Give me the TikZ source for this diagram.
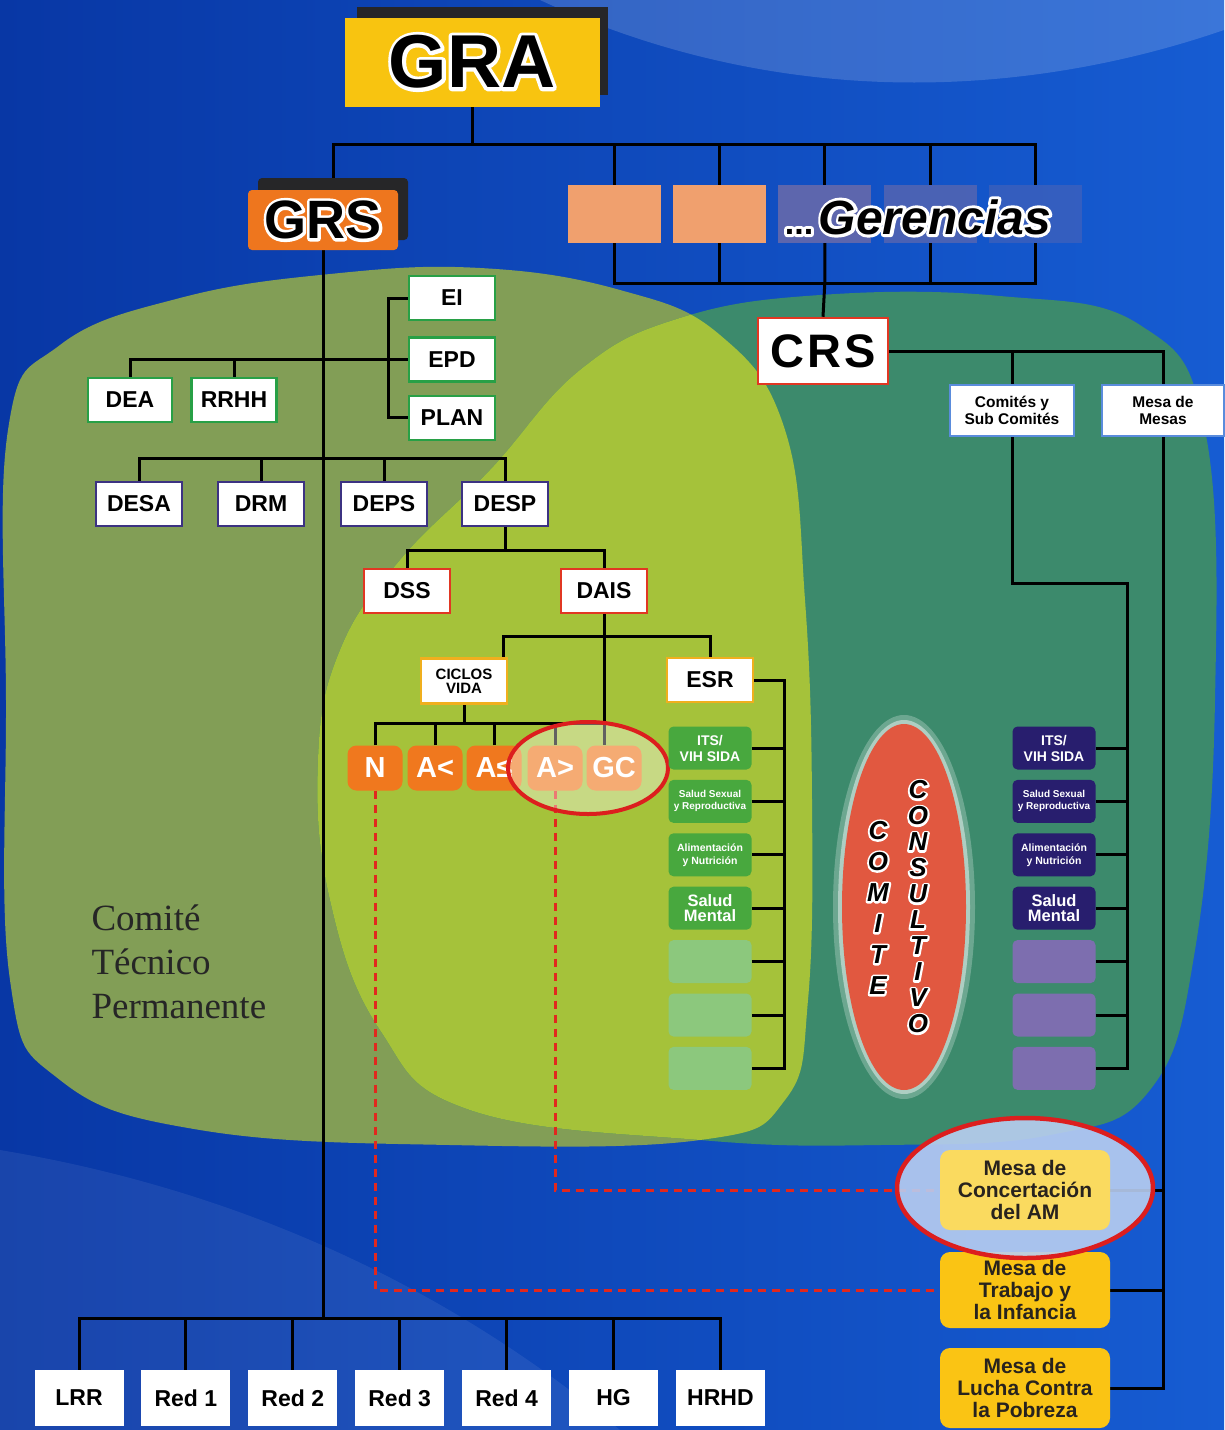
\documentclass[tikz,border=0pt]{standalone}
\usepackage{fontspec}
\setmainfont{Liberation Sans}
\newfontfamily\serifCTP{Liberation Serif}
\newfontfamily\wideCRS[LetterSpace=6]{Liberation Sans}
\usetikzlibrary{positioning}

\definecolor{bgblue}{RGB}{22,92,210}
\definecolor{bgdark}{RGB}{8,55,165}
\definecolor{olivebg}{RGB}{130,158,86}
\definecolor{tealbg}{RGB}{60,138,108}
\definecolor{limebg}{RGB}{165,194,58}
\definecolor{graGold}{RGB}{248,196,16}
\definecolor{grsOrange}{RGB}{238,118,30}
\definecolor{gerSalmon}{RGB}{240,160,110}
\definecolor{gerGrey}{RGB}{112,108,168}
\definecolor{shadowgrey}{RGB}{38,38,40}
\definecolor{grnBorder}{RGB}{40,160,70}
\definecolor{purBorder}{RGB}{60,50,130}
\definecolor{redBorder}{RGB}{225,55,35}
\definecolor{yelBorder}{RGB}{240,175,30}
\definecolor{comBorder}{RGB}{90,140,220}
\definecolor{esrGreen}{RGB}{72,168,62}
\definecolor{esrLight}{RGB}{140,200,125}
\definecolor{crsNavy}{RGB}{40,30,110}
\definecolor{crsLav}{RGB}{125,110,175}
\definecolor{lifeOrange}{RGB}{240,120,30}
\definecolor{mesaGold}{RGB}{250,196,20}
\definecolor{mesaPale}{RGB}{250,218,95}
\definecolor{mesaText}{RGB}{40,35,30}
\definecolor{ovalRed}{RGB}{225,88,64}
\definecolor{ringRed}{RGB}{220,30,30}
\definecolor{dashRed}{RGB}{225,40,30}

\newcommand*{\fsz}[2]{\fontsize{#1}{#2}\selectfont}
% white halo: stroked copy under the filled one
\newcommand*{\haloed}[2][5]{\leavevmode\rlap{\special{pdf:literal direct #1 w 1 j 1 1 1 RG 1 Tr}#2\special{pdf:literal direct 0 Tr}}#2}

\pgfdeclarelayer{back}
\pgfdeclarelayer{lines}
\pgfsetlayers{back,lines,main}

\tikzset{%
    link/.style={line width=3pt, black},
    dashlink/.style={line width=3pt, dashRed, dash pattern=on 8pt off 6pt},
    unitbox/.style={draw, fill=white, line width=2.4pt, inner sep=0pt, minimum width=86pt, minimum height=44pt, font=\fsz{23}{26}\bfseries},
    grnunit/.style={unitbox, draw=grnBorder},
    purunit/.style={unitbox, draw=purBorder},
    redunit/.style={unitbox, draw=redBorder},
    yelunit/.style={unitbox, draw=yelBorder},
    netbox/.style={fill=white, inner sep=0pt, minimum width=89pt, minimum height=56pt, font=\fsz{23}{26}\bfseries},
    gerbox/.style={inner sep=0pt, minimum width=93pt, minimum height=58pt},
    shadowbox/.style={fill=shadowgrey, inner sep=0pt},
    progbox/.style={rounded corners=5pt, inner sep=0pt, minimum width=83pt, minimum height=43pt, text=white, align=center},
    esrprog/.style={progbox, fill=esrGreen},
    esrempty/.style={progbox, fill=esrLight},
    crsprog/.style={progbox, fill=crsNavy},
    crsempty/.style={progbox, fill=crsLav},
    lifebox/.style={fill=lifeOrange, rounded corners=9pt, inner sep=0pt, minimum width=55pt, minimum height=45pt, text=white, font=\fsz{29}{30}\bfseries},
    mesabox/.style={fill=mesaGold, rounded corners=10pt, inner sep=0pt, minimum width=170pt, minimum height=78pt, align=center, text=mesaText, font=\fsz{21}{22}\bfseries},
    crsnet/.style={draw=comBorder, fill=white, line width=2pt, inner sep=0pt, minimum width=124pt, minimum height=51pt, align=center, font=\fsz{15.5}{17}\bfseries},
}

\begin{document}
\begin{tikzpicture}[x=1pt,y=-1pt]
\useasboundingbox (0,0) rectangle (1224,1430);

\begin{pgfonlayer}{back}
% background
\shade[left color=bgdark, right color=bgblue] (0,0) rectangle (1224,1430);
\fill[white,opacity=.16] (540,0) .. controls (800,120) and (1050,90) .. (1224,30) -- (1224,0) -- cycle;
\fill[white,opacity=.07] (0,1150) .. controls (300,1200) and (500,1330) .. (620,1430) -- (0,1430) -- cycle;

% comite tecnico / comite consultivo areas
\fill[olivebg] plot[smooth cycle, tension=.7] coordinates {(8,430) (60,345) (180,298) (330,274) (480,268) (620,290) (720,335) (785,430) (805,600) (812,800) (808,1000) (785,1100) (700,1140) (450,1145) (200,1130) (60,1080) (10,980) (6,700)};
\fill[tealbg] plot[smooth cycle, tension=.7] coordinates {(490,470) (580,370) (680,318) (820,295) (1000,296) (1140,325) (1205,430) (1215,700) (1195,950) (1150,1090) (1050,1135) (880,1145) (700,1140) (470,1110) (380,1030) (330,900) (318,760) (340,650) (400,560)};
\begin{scope}
\clip plot[smooth cycle, tension=.7] coordinates {(490,470) (580,370) (680,318) (820,295) (1000,296) (1140,325) (1205,430) (1215,700) (1195,950) (1150,1090) (1050,1135) (880,1145) (700,1140) (470,1110) (380,1030) (330,900) (318,760) (340,650) (400,560)};
\fill[limebg] plot[smooth cycle, tension=.7] coordinates {(8,430) (60,345) (180,298) (330,274) (480,268) (620,290) (720,335) (785,430) (805,600) (812,800) (808,1000) (785,1100) (700,1140) (450,1145) (200,1130) (60,1080) (10,980) (6,700)};
\end{scope}
\end{pgfonlayer}

% top level
\node[shadowbox, minimum width=251pt, minimum height=88pt] (GRAsh) at (482,51) {};
\node[fill=graGold, inner sep=0pt, minimum width=255pt, minimum height=89pt, font=\fsz{75}{75}\bfseries] (GRA) at (472,62) {\haloed[7]{GRA}};
\node[shadowbox, rounded corners=4pt, minimum width=150pt, minimum height=62pt] (GRSsh) at (333,209) {};
\node[fill=grsOrange, rounded corners=4pt, inner sep=0pt, minimum width=150pt, minimum height=60pt, font=\fsz{54}{54}\bfseries] (GRS) at (323,220) {\haloed[6]{GRS}};

% gerencias
\node[gerbox, fill=gerSalmon] (G1) at (614,214) {};
\node[gerbox, fill=gerSalmon, right=12pt of G1] (G2) {};
\node[gerbox, fill=gerGrey, opacity=.8, right=12pt of G2] (G3) {};
\node[gerbox, fill=gerGrey, opacity=.6, right=12pt of G3] (G4) {};
\node[gerbox, fill=gerGrey, opacity=.35, right=12pt of G4] (G5) {};
\node[font=\bfseries] (GERtxt) at (918,217) {\haloed[6]{\fsz{34}{34}...\,\fsz{48}{48}\itshape Gerencias}};
\node[draw=redBorder, line width=2.5pt, fill=white, inner sep=0pt, minimum width=130pt, minimum height=66pt, font=\wideCRS\fsz{47}{47}\bfseries] (CRS) at (823,351) {CRS};

% staff and directorates
\node[grnunit] (EI) at (452,298) {EI};
\node[grnunit, below=15pt of EI] (EPD) {EPD};
\node[grnunit, below=12pt of EPD] (PLAN) {PLAN};
\node[grnunit, minimum width=84pt] (DEA) at (130,400) {DEA};
\node[grnunit, minimum width=85pt] (RRHH) at (234,400) {RRHH};
\node[purunit] (DESA) at (139,504) {DESA};
\node[purunit] (DRM) at (261,504) {DRM};
\node[purunit] (DEPS) at (384,504) {DEPS};
\node[purunit] (DESP) at (505,504) {DESP};
\node[redunit] (DSS) at (407,591) {DSS};
\node[redunit] (DAIS) at (604,591) {DAIS};
\node[yelunit, minimum height=45pt, align=center, font=\fsz{15}{14}\bfseries] (CV) at (464,681) {CICLOS\\VIDA};
\node[yelunit] (ESR) at (710,680) {ESR};

% ciclos de vida
\node[lifebox] (N) at (375,768) {N};
\node[lifebox] (Alt) at (435,768) {A<};
\node[lifebox] (Aad) at (494,768) {A≤};
\node[lifebox] (Amay) at (555,768) {A>};
\node[lifebox] (GC) at (614,768) {GC};
\fill[white,opacity=.38] (588,768) ellipse [x radius=80, y radius=46];
\draw[ringRed, line width=4pt] (588,768) ellipse [x radius=80, y radius=46];

% estrategias
\node[esrprog, font=\fsz{14}{16}\bfseries] (e1) at (710,748) {ITS/\\VIH SIDA};
\node[esrprog, font=\fsz{10}{12}\bfseries, below=10pt of e1] (e2) {Salud Sexual\\y Reproductiva};
\node[esrprog, font=\fsz{10.5}{13}\bfseries, below=10pt of e2] (e3) {Alimentación\\y Nutrición};
\node[esrprog, font=\fsz{16.5}{15}\bfseries, below=10pt of e3] (e4) {Salud\\Mental};
\node[esrempty, below=10pt of e4] (e5) {};
\node[esrempty, below=10pt of e5] (e6) {};
\node[esrempty, below=10pt of e6] (e7) {};

\node[crsprog, font=\fsz{14}{16}\bfseries] (p1) at (1054,748) {ITS/\\VIH SIDA};
\node[crsprog, font=\fsz{10}{12}\bfseries, below=10pt of p1] (p2) {Salud Sexual\\y Reproductiva};
\node[crsprog, font=\fsz{10.5}{13}\bfseries, below=10pt of p2] (p3) {Alimentación\\y Nutrición};
\node[crsprog, font=\fsz{16.5}{15}\bfseries, below=10pt of p3] (p4) {Salud\\Mental};
\node[crsempty, below=10pt of p4] (p5) {};
\node[crsempty, below=10pt of p5] (p6) {};
\node[crsempty, below=10pt of p6] (p7) {};

% comites y mesas
\node[crsnet] (COM) at (1012,410) {Comités y\\Sub Comités};
\node[crsnet, minimum width=122pt] (MM) at (1163,410) {Mesa de\\Mesas};
\node[mesabox, minimum height=76pt] (MT) at (1025,1290) {Mesa de\\Trabajo y\\la Infancia};
\node[mesabox, minimum height=80pt] (MLP) at (1025,1388) {Mesa de\\Lucha Contra\\la Pobreza};
\fill[white!70!bgblue, opacity=.9] (1025,1188) ellipse [x radius=128, y radius=70];
\node[mesabox, fill=mesaPale, minimum height=80pt] (MC) at (1025,1190) {Mesa de\\Concertación\\del AM};
\draw[ringRed, line width=4.5pt] (1025,1188) ellipse [x radius=128, y radius=70];

% comite consultivo
\fill[white,opacity=.25] (904,907) ellipse [x radius=71, y radius=192];
\fill[white,opacity=.45] (904,907) ellipse [x radius=66, y radius=187];
\fill[ovalRed] (904,907) ellipse [x radius=62, y radius=183];
\node[font=\fsz{26}{31}\bfseries\itshape, align=center, inner sep=0pt] (CMT) at (878,908) {\haloed[4]{C}\\\haloed[4]{O}\\\haloed[4]{M}\\\haloed[4]{I}\\\haloed[4]{T}\\\haloed[4]{E}};
\node[font=\fsz{26}{26}\bfseries\itshape, align=center, inner sep=0pt] (CNS) at (918,907) {\haloed[4]{C}\\\haloed[4]{O}\\\haloed[4]{N}\\\haloed[4]{S}\\\haloed[4]{U}\\\haloed[4]{L}\\\haloed[4]{T}\\\haloed[4]{I}\\\haloed[4]{V}\\\haloed[4]{O}};

\node[font=\serifCTP\fsz{37}{44}, align=left, anchor=west, text=black!85] (CTP) at (88,962) {Comité\\Técnico\\Permanente};

% redes
\node[netbox] (LRR) at (79,1398) {LRR};
\node[netbox, right=17.5pt of LRR] (RedA) {Red 1};
\node[netbox, right=17.5pt of RedA] (RedB) {Red 2};
\node[netbox, right=17.5pt of RedB] (RedC) {Red 3};
\node[netbox, right=17.5pt of RedC] (RedD) {Red 4};
\node[netbox, right=17.5pt of RedD] (HG) {HG};
\node[netbox, right=17.5pt of HG] (HRHD) {HRHD};

\begin{pgfonlayer}{lines}
% GRA to GRS and gerencias
\draw[link] (GRA.south) -- ++(0,38) coordinate (busTop);
\draw[link] (GRSsh.north) |- (busTop) -| (G5.north);
\foreach \g in {G1,G2,G3,G4} \draw[link] (\g.north) -- (\g.north |- busTop);
\draw[link] (G3.south) -- ++(0,40) coordinate (busLow) -- (CRS.north);
\draw[link] (G1.south) |- (busLow) -| (G5.south);
\foreach \g in {G2,G4} \draw[link] (\g.south) -- (\g.south |- busLow);

% GRS trunk and redes
\coordinate (yNet) at (0,1318);
\draw[link] (GRS.south) -- (GRS.south |- yNet);
\draw[link] (LRR.north) |- (GRS.south |- yNet) -| (HRHD.north);
\foreach \r in {RedA,RedB,RedC,RedD,HG} \draw[link] (\r.north) -- (\r.north |- yNet);

% staff units
\draw[link] (DEA.north) |- (EPD.west);
\draw[link] (RRHH.north) -- (RRHH.north |- EPD.west);
\draw[link] (EI.west) -- ++(-19,0) |- (PLAN.west);

% directorates
\draw[link] (DESA.north) -- ++(0,-22) coordinate (busDir) -| (DESP.north);
\foreach \d in {DRM,DEPS} \draw[link] (\d.north) -- (\d.north |- busDir);
\draw[link] (DESP.south) -- ++(0,23) coordinate (busDesp);
\draw[link] (DSS.north) |- (busDesp) -| (DAIS.north);
\draw[link] (DAIS.south) -- (DAIS.south |- GC.north);
\path (DAIS.south) ++(0,22) coordinate (busDais);
\draw[link] ([xshift=39pt]CV.north) |- (busDais) -| (ESR.north);
\draw[link] (CV.south) -- ++(0,19) coordinate (busLife);
\draw[link] (N.north) |- (busLife -| DAIS.south);
\foreach \l in {Alt,Aad,Amay} \draw[link] (\l.north) -- (\l.north |- busLife);

% estrategias
\draw[link] (ESR.east) -- ++(30,0) coordinate (esrBus) |- (e7.east);
\foreach \e in {e1,e2,e3,e4,e5,e6} \draw[link] (\e.east) -- (\e.east -| esrBus);

% CRS side
\draw[link] (CRS.east) -| (MM.north);
\draw[link] (COM.north) -- (COM.north |- CRS.east);
\draw[link] (COM.south) -- ++(0,147) -- ++(115,0) coordinate (crsBus) |- (p7.east);
\foreach \p in {p1,p2,p3,p4,p5,p6} \draw[link] (\p.east) -- (\p.east -| crsBus);
\draw[link] (MM.south) |- (MLP.east);
\draw[link] (MT.east) -- (MT.east -| MM.south);
\draw[link] (MC.east) -- (MC.east -| MM.south);

% adulto mayor / infancia
\draw[dashlink] (N.south) |- (MT.west);
\draw[dashlink] (Amay.south) |- (MC.west);
\end{pgfonlayer}

\end{tikzpicture}
\end{document}
